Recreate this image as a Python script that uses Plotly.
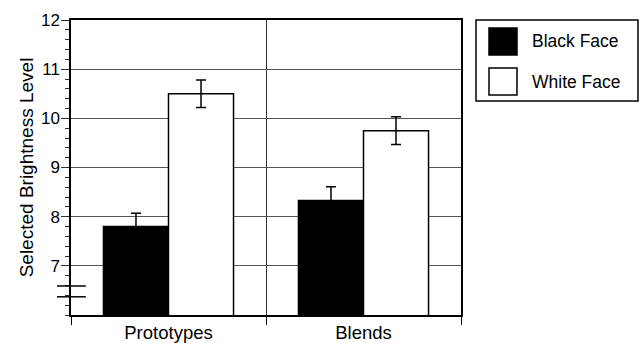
import plotly.graph_objects as go

categories = ["Prototypes", "Blends"]
black_face = [7.80, 8.33]
black_err = [0.27, 0.28]
white_face = [10.50, 9.75]
white_err = [0.28, 0.28]
series_names = ["Black Face", "White Face"]
y_ticks = [7, 8, 9, 10, 11, 12]

x = list(range(len(categories)))
FONT = "Liberation Sans, Arial, Helvetica, sans-serif"

fig = go.Figure()
fig.add_trace(go.Bar(
    x=x, y=black_face, name=series_names[0],
    marker=dict(color="black", line=dict(color="black", width=1.5)),
    error_y=dict(type="data", array=black_err, color="black", thickness=1.5, width=5),
))
fig.add_trace(go.Bar(
    x=x, y=white_face, name=series_names[1],
    marker=dict(color="white", line=dict(color="black", width=1.5)),
    error_y=dict(type="data", array=white_err, color="black", thickness=1.5, width=5),
))

fig.update_layout(
    width=642, height=343, autosize=False,
    margin=dict(l=71, r=181, t=20, b=28),
    paper_bgcolor="white", plot_bgcolor="white",
    barmode="group", bargap=0.333, bargroupgap=0,
    showlegend=False,
    font=dict(family=FONT, color="black", size=17),
)
fig.update_xaxes(
    range=[-0.5, 1.5], tickmode="array", tickvals=x, ticktext=categories,
    ticks="", ticklabelstandoff=0, tickfont=dict(size=18.5), automargin=False,
    showline=True, linecolor="black", linewidth=1.5, mirror=True,
    showgrid=False, zeroline=False,
    minor=dict(tickmode="array", tickvals=[-0.5, 0.5, 1.5], ticks="outside",
               ticklen=8, tickcolor="black", tickwidth=1,
               showgrid=True, gridcolor="#333", gridwidth=1),
)
fig.update_yaxes(
    range=[6, 12], tickmode="array", tickvals=y_ticks,
    ticks="outside", ticklen=8, tickcolor="#333", tickwidth=1,
    ticklabelstandoff=-2,
    tickfont=dict(size=17), automargin=False,
    showline=True, linecolor="black", linewidth=1.5, mirror=True,
    showgrid=True, gridcolor="#555", gridwidth=1, zeroline=False,
    minor=dict(dtick=0.2, tick0=6, ticks="outside", ticklen=4, tickcolor="#333",
               tickwidth=1, showgrid=False),
    title=dict(text="Selected Brightness Level", font=dict(size=19), standoff=2),
)

# axis break marks
for yb in (6.59, 6.37):
    fig.add_shape(type="line", xref="paper", yref="y", x0=-0.036, x1=0.038,
                  y0=yb, y1=yb, line=dict(color="black", width=1.5))

# manual legend
fig.add_shape(type="rect", xref="paper", yref="paper",
              x0=(476 - 71) / 390, x1=(638 - 71) / 390,
              y0=(315 - 101) / 295, y1=(315 - 20) / 295,
              line=dict(color="black", width=1.5), fillcolor="white")
for i, (name, col) in enumerate(zip(series_names, ["black", "white"])):
    top = 28 + i * 40
    fig.add_shape(type="rect", xref="paper", yref="paper",
                  x0=(489 - 71) / 390, x1=(517 - 71) / 390,
                  y0=(315 - (top + 27)) / 295, y1=(315 - top) / 295,
                  line=dict(color="black", width=1.5), fillcolor=col)
    fig.add_annotation(text=name, xref="paper", yref="paper",
                       x=(530 - 71) / 390, y=(315 - (top + 13.5)) / 295,
                       xanchor="left", yanchor="middle", showarrow=False,
                       font=dict(size=17.5, family=FONT, color="black"))

fig.write_html("out.html", config={"displayModeBar": False},
               post_script="document.body.style.margin='0';document.body.style.overflow='hidden';")
